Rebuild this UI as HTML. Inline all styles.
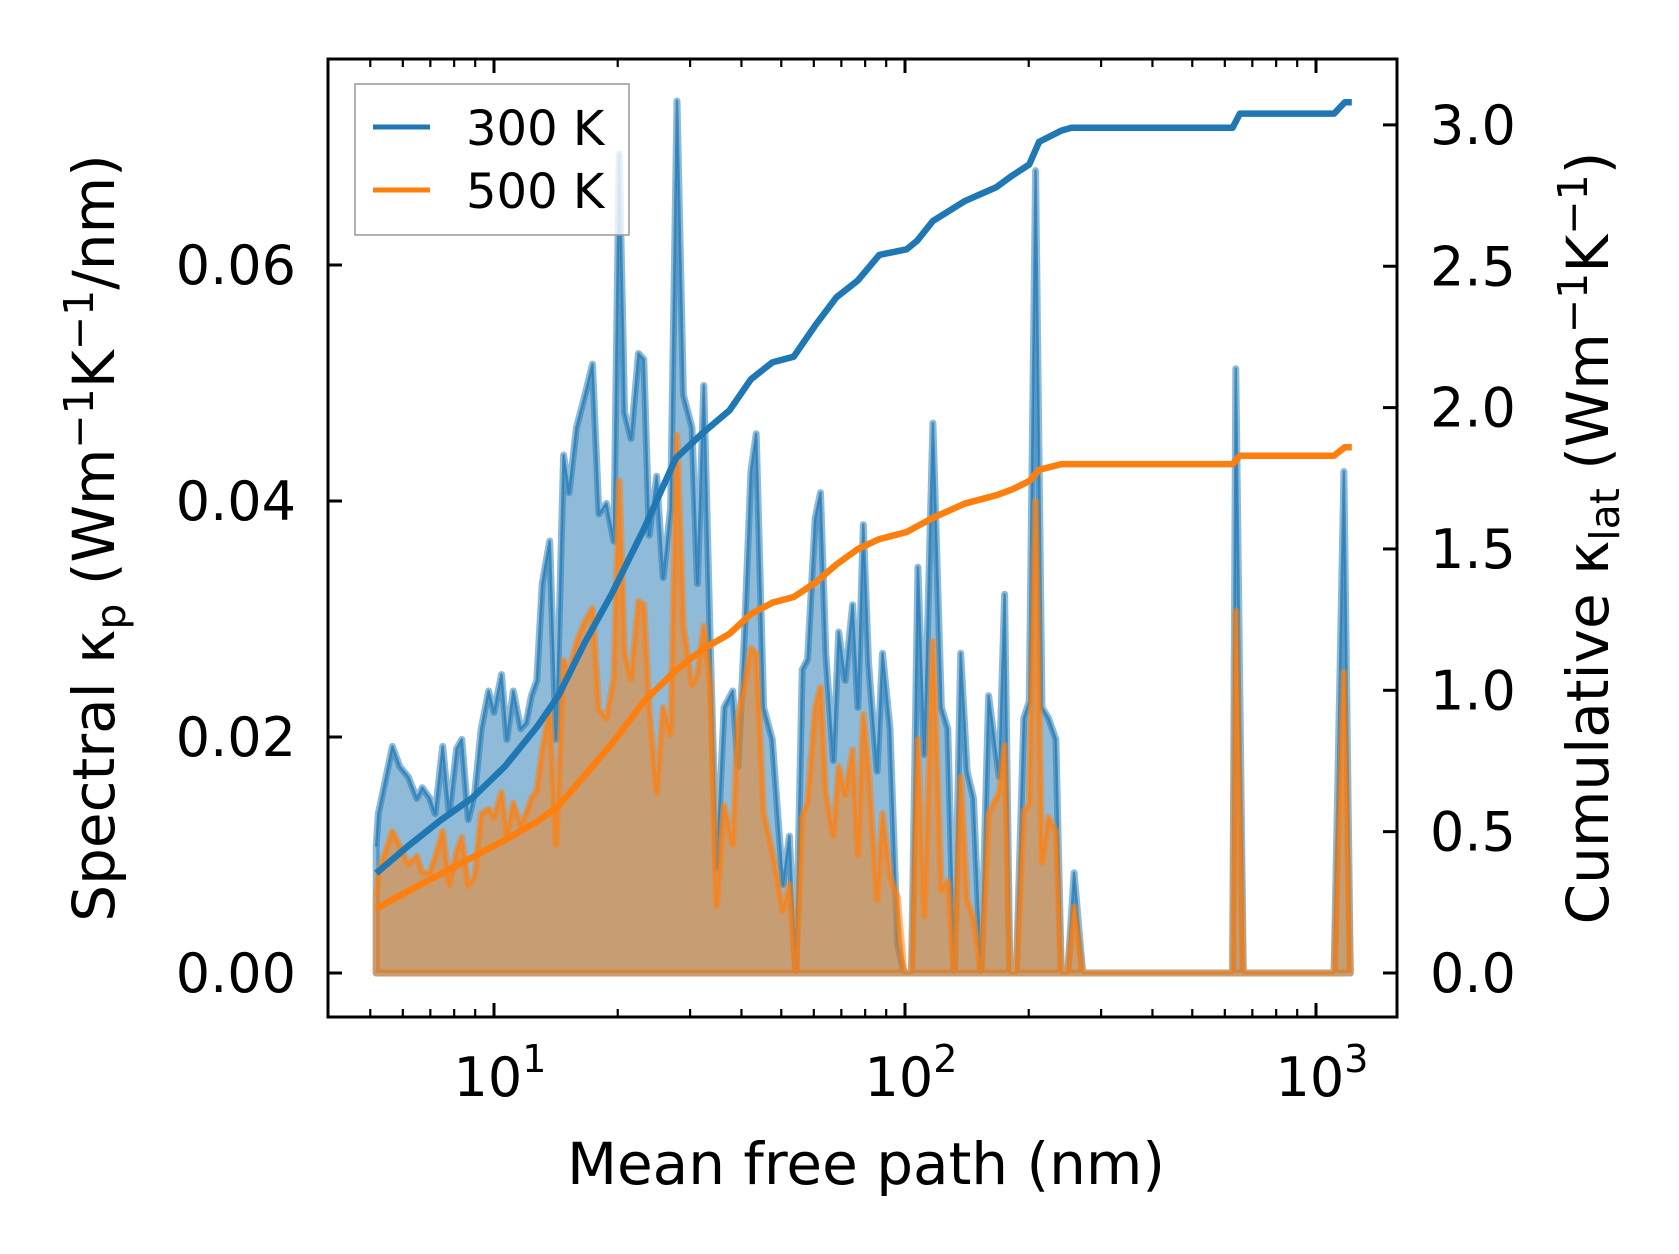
<!DOCTYPE html>
<html><head><meta charset="utf-8"><style>
html,body{margin:0;padding:0;background:#fff;}
svg{display:block;font-family:"DejaVu Sans","Liberation Sans",sans-serif;}
</style></head><body>
<svg id="chart" width="1679" height="1254" viewBox="0 0 1679 1254" xmlns="http://www.w3.org/2000/svg">
<rect width="1679" height="1254" fill="#fff"/>
<g id="plot"></g>
<g id="axes"></g>
<g>
<rect x="355" y="84" width="274" height="151" fill="#fff" fill-opacity="0.8" stroke="#999" stroke-width="1.5"/>
<line x1="373" y1="127" x2="430" y2="127" stroke="#1f77b4" stroke-width="5"/>
<text x="466" y="145" font-size="48" fill="#000">300 K</text>
<line x1="373" y1="190" x2="430" y2="190" stroke="#ff7f0e" stroke-width="5"/>
<text x="466" y="208" font-size="48" fill="#000">500 K</text>
</g>
<text x="866" y="1184" font-size="58" text-anchor="middle">Mean free path (nm)</text>
<text transform="translate(114,538) rotate(-90)" font-size="58" text-anchor="middle">Spectral κ<tspan font-size="41" dy="11">p</tspan><tspan dy="-11"> (Wm</tspan><tspan font-size="41" dy="-21">−1</tspan><tspan dy="21">K</tspan><tspan font-size="41" dy="-21">−1</tspan><tspan dy="21">/nm)</tspan></text>
<text transform="translate(1608,538) rotate(-90)" font-size="58" text-anchor="middle">Cumulative κ<tspan font-size="41" dy="11">lat</tspan><tspan dy="-11"> (Wm</tspan><tspan font-size="41" dy="-21">−1</tspan><tspan dy="21">K</tspan><tspan font-size="41" dy="-21">−1</tspan><tspan dy="21">)</tspan></text>
</svg>
<script>
// spectral data (mean free path in nm, kappa in W/m/K/nm)
const mfp = [5.17,5.23,5.66,5.90,6.19,6.49,6.69,6.98,7.19,7.50,7.78,8.11,8.35,8.66,8.98,9.31,9.70,10.0,10.43,10.75,11.14,11.62,11.97,12.33,12.71,13.10,13.66,14.16,14.77,15.22,15.87,16.65,17.36,18.00,18.77,19.57,20.17,20.78,21.54,22.47,23.15,23.86,24.88,25.79,26.90,27.88,28.90,30.33,31.25,32.39,33.57,34.81,36.30,38.08,39.25,40.68,42.17,43.45,45.32,47.54,50.47,52.33,54.25,56.23,57.94,60.43,62.28,64.17,66.92,68.96,71.49,74.55,76.82,79.15,81.55,85.55,88.16,91.94,95.9,99.4,103.7,107.5,111.4,116.9,122.6,127.1,131.8,136.6,141.6,146.8,153.1,159.7,169.5,174.7,180.0,186.6,194.6,200.5,207.9,215.4,223.4,232.9,240.0,248.8,257.9,270.6,626.6,637.9,665.3,1107,1169,1212];
const spectral300 = [0.0107,0.0135,0.0192,0.0175,0.0166,0.0148,0.0157,0.0148,0.0135,0.0192,0.0135,0.019,0.0198,0.013,0.0153,0.0207,0.0239,0.0221,0.0253,0.0198,0.0239,0.0207,0.0212,0.0235,0.0248,0.033,0.0366,0.0198,0.0439,0.0407,0.0462,0.049,0.0516,0.0389,0.0398,0.0366,0.0694,0.0475,0.0453,0.0525,0.052,0.0371,0.0421,0.0335,0.0394,0.0739,0.049,0.0462,0.033,0.0498,0.028,0.0089,0.0225,0.0239,0.0175,0.0289,0.0425,0.0457,0.0225,0.0198,0.0075,0.0116,0,0.0257,0.0266,0.0385,0.0407,0.0271,0.018,0.0289,0.0248,0.0312,0.0225,0.038,0.0262,0.0171,0.0271,0.0207,0.0025,0,0,0.0344,0.0185,0.0466,0.0225,0.0207,0,0.0271,0.0171,0.0148,0,0.0235,0.0166,0.0321,0,0,0.0216,0.023,0.068,0.0225,0.0216,0.0198,0,0,0.0085,0,0,0.0512,0,0,0.0425,0];
const spectral500 = [0.0065,0.0085,0.012,0.0107,0.0092,0.0099,0.0085,0.0085,0.0098,0.012,0.0075,0.0103,0.0115,0.0074,0.0082,0.0135,0.0139,0.0132,0.0153,0.0117,0.0144,0.0125,0.0135,0.0148,0.0155,0.0189,0.0223,0.0109,0.0265,0.0254,0.028,0.0298,0.0309,0.0223,0.0216,0.025,0.0417,0.0271,0.0249,0.0315,0.0312,0.0225,0.0153,0.0225,0.0202,0.0456,0.0294,0.0244,0.0253,0.0294,0.0244,0.0057,0.0142,0.0109,0.0217,0.0244,0.0275,0.0271,0.0135,0.0103,0.0053,0.0075,0,0.0132,0.0145,0.0225,0.0242,0.0153,0.0116,0.0175,0.0151,0.0189,0.01,0.0219,0.0171,0.0062,0.0135,0.0082,0.0064,0,0,0.0198,0.0048,0.0281,0.007,0.0078,0,0.0166,0.0062,0.0046,0,0.0135,0.0153,0.0193,0,0,0.0137,0.0143,0.040,0.0094,0.0132,0.012,0,0,0.0056,0,0,0.0307,0,0,0.0255,0];
// cumulative data (W/m/K)
const cumMfp = [5.17,6.19,7.41,8.87,10.62,12.71,14.33,16.65,19.33,23.15,27.68,32.2,37.4,42.17,47.54,53.6,60.43,68.1,76.82,86.6,101,107,116.9,139.6,167,182,200.5,212,240,254,626.6,653,1107,1175,1222];
const cum300 = [0.353,0.45,0.54,0.62,0.73,0.87,0.98,1.17,1.34,1.57,1.82,1.91,1.99,2.10,2.16,2.18,2.29,2.39,2.45,2.54,2.56,2.59,2.66,2.73,2.78,2.82,2.86,2.94,2.98,2.99,2.99,3.04,3.04,3.08,3.08];
const cum500 = [0.228,0.29,0.35,0.41,0.47,0.535,0.59,0.70,0.81,0.96,1.07,1.145,1.20,1.27,1.31,1.33,1.38,1.445,1.50,1.535,1.56,1.58,1.61,1.66,1.69,1.71,1.74,1.78,1.80,1.80,1.80,1.83,1.83,1.86,1.86];
const leftTicks = [0, 0.02, 0.04, 0.06];
const leftTickLabels = ["0.00","0.02","0.04","0.06"];
const rightTicks = [0, 0.5, 1.0, 1.5, 2.0, 2.5, 3.0];
const rightTickLabels = ["0.0","0.5","1.0","1.5","2.0","2.5","3.0"];
const xMajor = [10, 100, 1000];
const xMajorExp = ["1","2","3"];

const L=328,R=1397,T=59,B=1017;
const X = m => 494 + (Math.log10(m)-1)*411;
const YL = v => 973 - v*236/0.02;
const YR = v => 973 - v*282.7;
const NS="http://www.w3.org/2000/svg";
function mk(tag, attrs, parent){const e=document.createElementNS(NS,tag);for(const k in attrs)e.setAttribute(k,attrs[k]);parent.appendChild(e);return e;}
const plot=document.getElementById('plot'), axes=document.getElementById('axes');

function spectral(vals,color,name){
  let line=mfp.map((m,i)=>(i?'L':'M')+X(m).toFixed(1)+','+YL(vals[i]).toFixed(1)).join('');
  let area=line+'L'+X(mfp[mfp.length-1]).toFixed(1)+','+YL(0)+'L'+X(mfp[0]).toFixed(1)+','+YL(0)+'Z';
  const a=mk('path',{d:area,fill:color,'fill-opacity':0.5,stroke:color,'stroke-opacity':0.5,'stroke-width':7,'stroke-linejoin':'round'},plot);
  
  
  const l=mk('path',{d:line,fill:'none',stroke:color,'stroke-opacity':0.7,'stroke-width':2.5,'stroke-linejoin':'round'},plot);
  
  
}
spectral(spectral300,'#1f77b4','spectral-300k');
spectral(spectral500,'#ff7f0e','spectral-500k');
function cum(vals,color,name){
  const d=cumMfp.map((m,i)=>(i?'L':'M')+X(m).toFixed(1)+','+YR(vals[i]).toFixed(1)).join('');
  const p=mk('path',{d:d,fill:'none',stroke:color,'stroke-width':6.5,'stroke-linejoin':'round'},plot);
  
  
}
cum(cum300,'#1f77b4','cumulative-300k-line');
cum(cum500,'#ff7f0e','cumulative-500k-line');

const frame=mk('rect',{x:L,y:T,width:R-L,height:B-T,fill:'none',stroke:'#000','stroke-width':3},axes);


leftTicks.forEach((v,i)=>{
  const y=YL(v);
  const t=mk('line',{x1:L,x2:L+14,y1:y,y2:y,stroke:'#000','stroke-width':3},axes);
  
  
  const tx=mk('text',{x:296,y:y+19,'font-size':54,'text-anchor':'end'},axes);
  tx.textContent=leftTickLabels[i];
  
  
});
rightTicks.forEach((v,i)=>{
  const y=YR(v);
  const t=mk('line',{x1:R-14,x2:R,y1:y,y2:y,stroke:'#000','stroke-width':3},axes);
  
  
  const tx=mk('text',{x:1430,y:y+19,'font-size':54},axes);
  tx.textContent=rightTickLabels[i];
  
  
});
xMajor.forEach((v,i)=>{
  const x=X(v);
  [[B-14,B],[T,T+14]].forEach(([a,b])=>{
    const t=mk('line',{x1:x,x2:x,y1:a,y2:b,stroke:'#000','stroke-width':3},axes);
    
    
  });
  const tx=mk('text',{x:x+6,y:1096,'font-size':54,'text-anchor':'middle'},axes);
  tx.textContent='10';
  const s=mk('tspan',{'font-size':38,dy:-24},tx);
  s.textContent=xMajorExp[i];
  
  
});
[1,10,100,1000].forEach(dec=>{
  for(let k=2;k<=9;k++){
    const x=X(dec*k);
    if(x<L+4||x>R-4) continue;
    [[B-8,B],[T,T+8]].forEach(([a,b])=>{
      const t=mk('line',{x1:x,x2:x,y1:a,y2:b,stroke:'#000','stroke-width':2.2},axes);
      
      
    });
  }
});
</script>
</body></html>
